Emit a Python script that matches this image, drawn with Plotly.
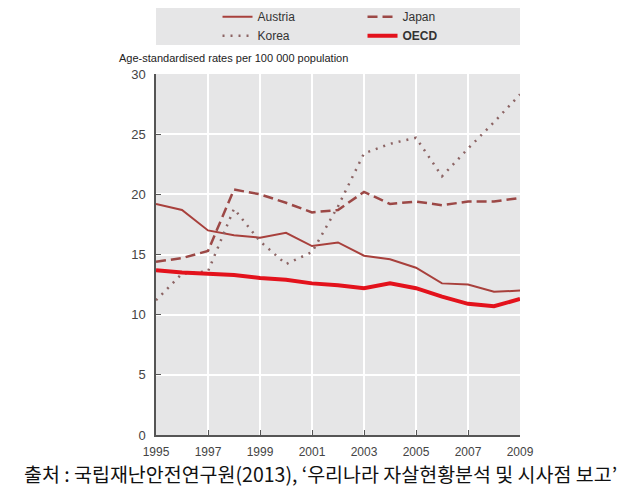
import plotly.graph_objects as go

# 연도 및 국가별 자살률 (연령표준화, 인구 10만 명당)
years = list(range(1995, 2010))
austria = [19.2, 18.7, 17.0, 16.6, 16.4, 16.8, 15.7, 16.0, 14.9, 14.6, 13.9, 12.6, 12.5, 11.9, 12.0]
japan = [14.4, 14.7, 15.3, 20.4, 20.0, 19.3, 18.5, 18.7, 20.2, 19.2, 19.4, 19.1, 19.4, 19.4, 19.7]
korea = [11.2, 13.4, 13.6, 18.8, 16.1, 14.2, 15.2, 19.0, 23.4, 24.2, 24.7, 21.5, 23.8, 26.0, 28.3]
oecd = [13.7, 13.5, 13.4, 13.3, 13.05, 12.9, 12.6, 12.45, 12.2, 12.6, 12.2, 11.5, 10.9, 10.7, 11.3]

x_ticks = list(range(1995, 2010, 2))
y_ticks = [0, 5, 10, 15, 20, 25, 30]

narrow = "Liberation Sans Narrow, Arial Narrow, Liberation Sans, sans-serif"

fig = go.Figure()
fig.add_trace(go.Scatter(x=years, y=austria, name="Austria", mode="lines",
                         line=dict(color="#a8403c", width=2)))
fig.add_trace(go.Scatter(x=years, y=japan, name="Japan", mode="lines",
                         line=dict(color="#9c4846", width=2.5, dash="10px,5px")))
fig.add_trace(go.Scatter(x=years, y=korea, name="Korea", mode="lines",
                         line=dict(color="#8c6464", width=2.5, dash="2px,6px")))
fig.add_trace(go.Scatter(x=years, y=oecd, name="<b>OECD</b>", mode="lines",
                         line=dict(color="#e3121c", width=4)))

# 페이지 body 여백(8px)을 감안해 여백을 줄임
fig.update_layout(
    width=626, height=494,
    margin=dict(l=148, r=114, t=66, b=67, autoexpand=False),
    paper_bgcolor="white",
    plot_bgcolor="#e6e6e7",
    font=dict(family=narrow, size=12, color="#333333"),
    showlegend=True,
    legend=dict(orientation="h", x=0.169, xanchor="left", y=1.199, yref="paper",
                yanchor="top", entrywidth=100, bgcolor="rgba(0,0,0,0)",
                font=dict(family=narrow, size=12, color="#333333"),
                tracegroupgap=0),
    shapes=[dict(type="rect", xref="paper", yref="paper", x0=0, x1=1,
                 y0=1.080, y1=1.197, fillcolor="#e6e6e7", line=dict(width=0),
                 layer="below")],
    annotations=[
        dict(text="Age-standardised rates per 100 000 population", xref="paper", yref="paper",
             x=-0.108, y=1.044, xanchor="left", yanchor="middle", showarrow=False,
             font=dict(family=narrow, size=11, color="#222222")),
        dict(text="출처 : 국립재난안전연구원(2013), ‘우리나라 자살현황분석 및 시사점 보고’",
             xref="paper", yref="paper", x=0.452, y=-0.108, xanchor="center", yanchor="middle",
             showarrow=False,
             font=dict(family="Noto Sans CJK KR", size=19.5, color="#111111")),
    ],
)
fig.update_xaxes(range=[1995, 2009], tickvals=x_ticks, showgrid=True, gridcolor="white",
                 gridwidth=2, zeroline=False, showline=True, linecolor="#555555", linewidth=1.5,
                 ticks="inside", ticklen=5, tickcolor="#555555", ticklabelstandoff=5,
                 tickfont=dict(family=narrow, size=12, color="#444444"))
fig.update_yaxes(range=[0, 30], tickvals=y_ticks, showgrid=True, gridcolor="white",
                 gridwidth=2, zeroline=False, showline=True, linecolor="#555555", linewidth=1.5,
                 ticks="inside", ticklen=5, tickcolor="#555555", ticklabelstandoff=6,
                 tickfont=dict(family=narrow, size=13, color="#444444"))

fig.write_html("out.html")
